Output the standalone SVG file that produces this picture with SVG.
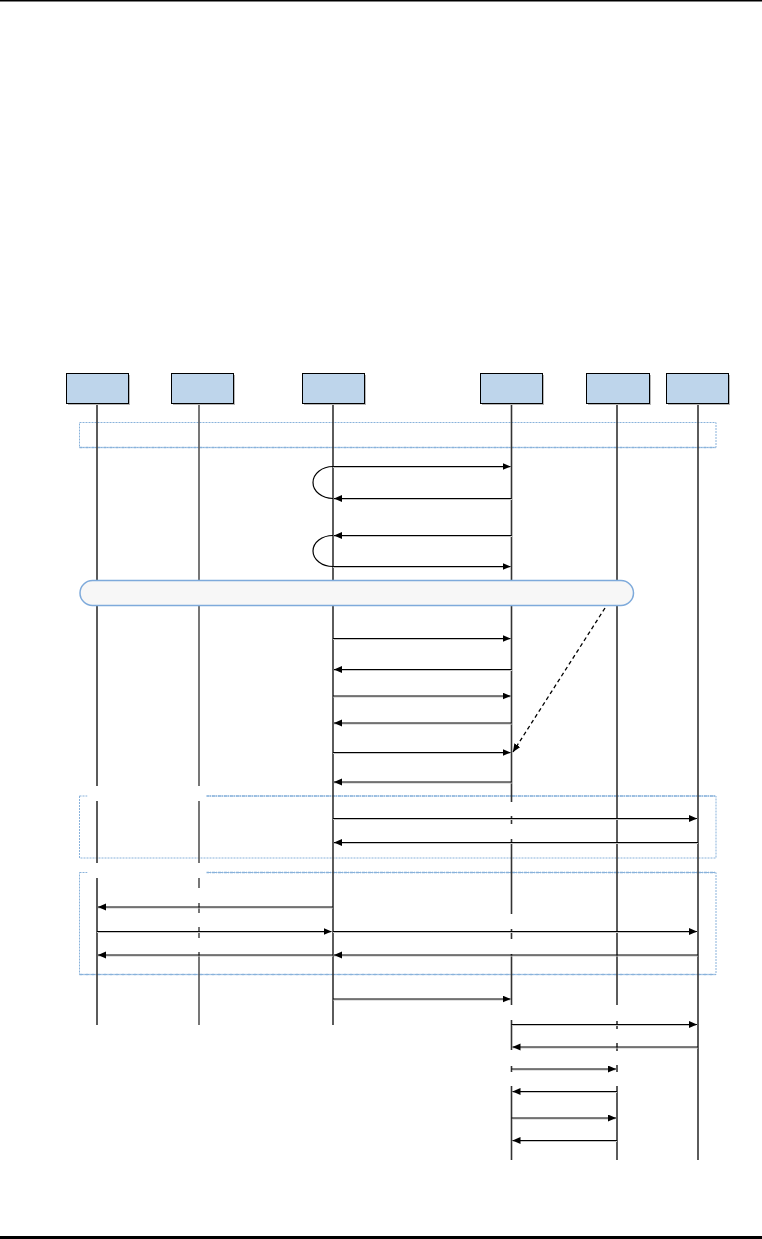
<svg xmlns="http://www.w3.org/2000/svg" width="762" height="1239" viewBox="0 0 762 1239">
<style>
.box{fill:#bed5eb;stroke:#000;stroke-width:1}
.bsh{fill:#b8b8b8}
.life{stroke:#333;stroke-width:1.6;fill:none}
.life2{stroke:#555;stroke-width:1.6;fill:none}
.frame{fill:none;stroke:#89b2db;stroke-width:1;stroke-dasharray:2,1}
.fbot{fill:none;stroke:#89b2db;stroke-width:1.6;stroke-dasharray:3,1,1,1}
.msg{stroke:#000;stroke-width:1.2;fill:none}
.sh{stroke:#c4c4c4;stroke-width:1;fill:none}
.loop{stroke:#000;stroke-width:1.2;fill:none}
.gap{fill:#fff}
</style>
<defs>
<marker id="ah" markerUnits="userSpaceOnUse" markerWidth="9" markerHeight="8" refX="8" refY="3.5" orient="auto">
<path d="M0,0 L8,3.5 L0,7 z" fill="#000"/>
</marker>
</defs>
<rect x="0" y="0" width="762" height="1.5" fill="#000"/>
<rect x="0" y="1236" width="762" height="3" fill="#000"/>

<g id="frames">
<rect class="frame" x="79.5" y="422.5" width="636.5" height="25"/>
<line class="fbot" x1="79.5" y1="447.5" x2="716" y2="447.5"/>
<rect class="frame" x="79.5" y="796" width="636.5" height="62"/>
<line class="fbot" x1="206" y1="796" x2="716" y2="796"/>
<rect class="frame" x="79.5" y="872.5" width="636.5" height="102"/>
<line class="fbot" x1="206" y1="872.5" x2="716" y2="872.5"/>
<line class="fbot" x1="79.5" y1="974.5" x2="716" y2="974.5"/>
</g>

<g id="lifelines">
<path class="life" d="M97,403 V786 M97,801 V863 M97,878 V1025"/>
<path class="life2" d="M199,403 V786 M199,801 V863 M199,878 V888 M199,903 V913 M199,927 V938 M199,952 V1025"/>
<path class="life" d="M333,403 V1025"/>
<path class="life" d="M511.5,403 V802 M511.5,816 V824 M511.5,839 V914 M511.5,929 V939 M511.5,954 V1005 M511.5,1020 V1050 M511.5,1066 V1072 M511.5,1086 V1160"/>
<path class="life" d="M617,403 V1005 M617,1021 V1029 M617,1043 V1051 M617,1065 V1072 M617,1086 V1160"/>
<path class="life" d="M698,403 V1160"/>
</g>
<g id="label-gaps">
<rect class="gap" x="87.5" y="786" width="119" height="15"/>
<rect class="gap" x="87.5" y="863" width="119" height="15"/>
</g>

<g id="n1"><rect class="bsh" x="68" y="375" width="62" height="30"/><rect class="box" x="66.5" y="373.5" width="62" height="30"/></g>
<g id="n2"><rect class="bsh" x="173" y="375" width="62" height="30"/><rect class="box" x="171.5" y="373.5" width="62" height="30"/></g>
<g id="n3"><rect class="bsh" x="304" y="375" width="62" height="30"/><rect class="box" x="302.5" y="373.5" width="62" height="30"/></g>
<g id="n4"><rect class="bsh" x="482" y="375" width="62" height="30"/><rect class="box" x="480.5" y="373.5" width="62" height="30"/></g>
<g id="n5"><rect class="bsh" x="588" y="375" width="63" height="30"/><rect class="box" x="586.5" y="373.5" width="63" height="30"/></g>
<g id="n6"><rect class="bsh" x="668" y="375" width="62" height="30"/><rect class="box" x="666.5" y="373.5" width="62" height="30"/></g>

<g id="note">
<rect x="80" y="580.5" width="553.5" height="25" rx="12.5" ry="12.5" fill="#f7f7f7" stroke="#7eaadb" stroke-width="1.5"/>
</g>

<g id="connectors">
<g class="sh">
<path d="M333,467.5 H510 M334,499.5 H512 M334,536.5 H512 M333,567.5 H510"/>
<path d="M333,639.5 H510 M334,670.5 H512 M333,697 H510 M334,724 H512 M333,753.5 H510 M334,783 H512"/>
<path d="M333,819.5 H696 M334,843.5 H698"/>
<path d="M98,908 H333 M97,932.5 H331 M333,932.5 H696 M334,956 H698 M98,956 H333"/>
<path d="M333,1000 H510 M512,1025.5 H696 M513,1048 H698 M512,1070 H615 M513,1092.5 H617 M512,1119 H615 M513,1141.5 H617"/>
</g>
<path class="loop" d="M333,466.5 A20,16 0 0 0 333,498.5"/>
<path class="loop" d="M333,535.5 A20,15.5 0 0 0 333,566.5"/>
<g class="msg" marker-end="url(#ah)">
<line x1="333" y1="466.5" x2="510.5" y2="466.5"/>
<line x1="511.5" y1="498.5" x2="334" y2="498.5"/>
<line x1="511.5" y1="535.5" x2="334" y2="535.5"/>
<line x1="333" y1="566.5" x2="510.5" y2="566.5"/>
<line x1="333" y1="638.5" x2="510.5" y2="638.5"/>
<line x1="511.5" y1="669.5" x2="334" y2="669.5"/>
<line x1="333" y1="696" x2="510.5" y2="696"/>
<line x1="511.5" y1="723" x2="334" y2="723"/>
<line x1="333" y1="752.5" x2="510.5" y2="752.5"/>
<line x1="511.5" y1="782" x2="334" y2="782"/>
<line x1="333" y1="818.5" x2="697" y2="818.5"/>
<line x1="698" y1="842.5" x2="334" y2="842.5"/>
<line x1="333" y1="907" x2="98" y2="907"/>
<line x1="97" y1="931.5" x2="331.5" y2="931.5"/>
<line x1="333" y1="931.5" x2="697" y2="931.5"/>
<line x1="698" y1="955" x2="334" y2="955"/>
<line x1="333" y1="955" x2="98" y2="955"/>
<line x1="333" y1="999" x2="510.5" y2="999"/>
<line x1="511.5" y1="1024.5" x2="697" y2="1024.5"/>
<line x1="698" y1="1047" x2="512.5" y2="1047"/>
<line x1="511.5" y1="1069" x2="616" y2="1069"/>
<line x1="617" y1="1091.5" x2="512.5" y2="1091.5"/>
<line x1="511.5" y1="1118" x2="616" y2="1118"/>
<line x1="617" y1="1140.5" x2="512.5" y2="1140.5"/>
</g>
<line x1="605" y1="608" x2="513" y2="752" stroke="#000" stroke-width="1.3" stroke-dasharray="4,3" marker-end="url(#ah)"/>
</g>
</svg>
